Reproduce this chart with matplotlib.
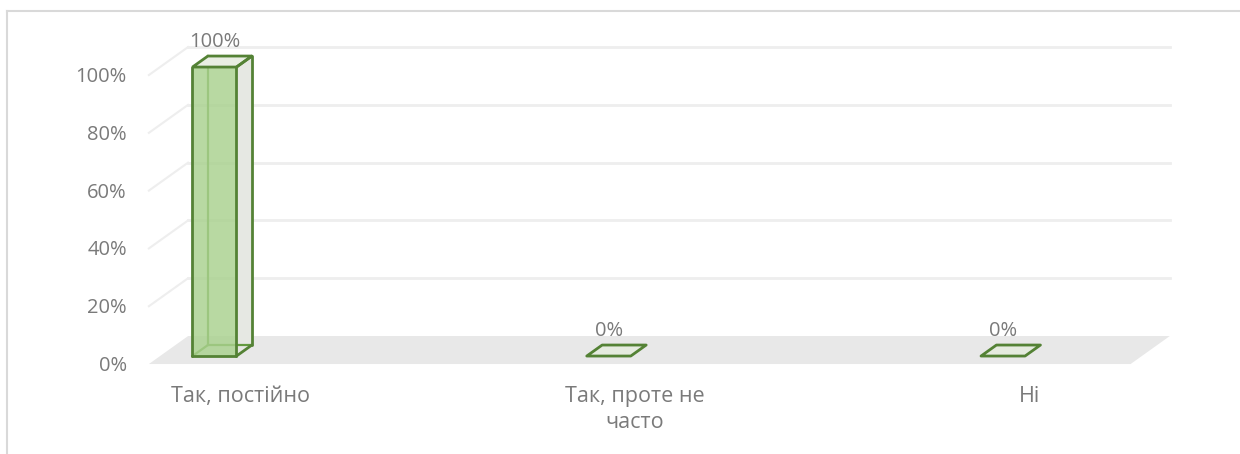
import numpy as np
import matplotlib
matplotlib.use('Agg')
import matplotlib.pyplot as plt
from matplotlib.patches import Polygon
from matplotlib.lines import Line2D
from matplotlib.transforms import IdentityTransform

categories = ['Так, постійно', 'Так, проте не\nчасто', 'Ні']
values = [100, 0, 0]
value_labels = ['100%', '0%', '0%']
ticks = [0, 20, 40, 60, 80, 100]
tick_labels = ['0%', '20%', '40%', '60%', '80%', '100%']

plt.rcParams['font.family'] = ['Open Sans', 'DejaVu Sans']
GREY_TXT = '#7a7a7a'
EDGE = '#548235'
EDGE_HIDDEN = '#639a3f'
FILL = '#a9d18e'
FS = 14.5
FS_CAT = 15.5

fig = plt.figure(figsize=(12.4, 4.54), dpi=100)
ax = fig.add_axes([0, 0, 1, 1])
ax.set_xlim(-0.544, 2.601)
ax.set_ylim(-33.9, 123.2)
ax.axis('off')

# depth direction of the oblique projection, pixels per unit depth
DEPTH = np.array([1.4, 1.0])
D_FLOOR_FRONT, D_BAR_BACK, D_WALL = -8, 11, 20
XMIN, XMAX = -0.138, 2.352
HW = 0.0558

z = [1]


def pt(x, v, d=0):
    return ax.transData.transform((x, v)) + d * DEPTH


def nz():
    z[0] += 0.01
    return z[0]


def poly(points, **kw):
    ax.add_patch(Polygon(np.array(points), closed=True,
                         transform=IdentityTransform(), zorder=nz(), **kw))


def seg(a, b, **kw):
    ax.add_line(Line2D([a[0], b[0]], [a[1], b[1]],
                       transform=IdentityTransform(), zorder=nz(), **kw))


# walls: gridlines on the back and left side
for t in ticks[1:]:
    seg(pt(XMIN, t, D_WALL), pt(XMAX, t, D_WALL), color='#eeeeee', lw=2)
    seg(pt(XMIN, t, D_FLOOR_FRONT), pt(XMIN, t, D_WALL), color='#eeeeee', lw=1.5)

# floor
poly([pt(XMIN, 0, D_FLOOR_FRONT), pt(XMAX, 0, D_FLOOR_FRONT),
      pt(XMAX, 0, D_WALL), pt(XMIN, 0, D_WALL)],
     facecolor='#e8e8e8', edgecolor='none')

# y tick labels
for t, lab in zip(ticks, tick_labels):
    p = pt(XMIN, t, D_FLOOR_FRONT)
    ax.text(p[0] - 22, p[1] - 2, lab, transform=IdentityTransform(),
            ha='right', va='center', fontsize=FS, color=GREY_TXT)

# 3d columns
for i, v in enumerate(values):
    l, r = i - HW, i + HW
    fl0, fr0, fl1, fr1 = pt(l, 0), pt(r, 0), pt(l, v), pt(r, v)
    bl0, br0, bl1, br1 = (pt(l, 0, D_BAR_BACK), pt(r, 0, D_BAR_BACK),
                          pt(l, v, D_BAR_BACK), pt(r, v, D_BAR_BACK))
    if v > 0:
        poly([fr0, br0, br1, fr1], facecolor='#e6e8e3', edgecolor='none')
        # hidden edges behind the front face
        seg(bl0, bl1, color=EDGE_HIDDEN, lw=1.6)
        seg(bl0, br0, color=EDGE_HIDDEN, lw=1.6)
        seg(fl0, bl0, color=EDGE_HIDDEN, lw=1.6)
        poly([fl0, fr0, fr1, fl1], facecolor=FILL, edgecolor='none', alpha=0.82)
        poly([fl1, fr1, br1, bl1], facecolor='#e9eee3', edgecolor=EDGE, lw=2)
        for a, b in [(fl0, fr0), (fl0, fl1), (fr0, fr1), (fr1, br1),
                     (br0, br1), (fr0, br0)]:
            seg(a, b, color=EDGE, lw=2, solid_capstyle='round')
    else:
        poly([fl1, fr1, br1, bl1], facecolor='#e5ebdf',
             edgecolor=EDGE, lw=2, joinstyle='round')

    ax.annotate(value_labels[i], xy=(i, v), xytext=(0, 25),
                textcoords='offset pixels', ha='center', va='center',
                fontsize=FS, color=GREY_TXT, zorder=10)
    ax.annotate(categories[i], xy=(i, 0), xytext=(26, -30),
                textcoords='offset pixels', ha='center', va='top',
                multialignment='center', linespacing=1.3,
                fontsize=FS_CAT, color=GREY_TXT, zorder=10)

# chart area border (top and left edges)
fig.add_artist(Line2D([7 / 1240, 1], [1 - 11 / 454, 1 - 11 / 454],
                      transform=fig.transFigure, color='#d9d9d9', lw=1.5))
fig.add_artist(Line2D([7 / 1240, 7 / 1240], [0, 1 - 11 / 454],
                      transform=fig.transFigure, color='#d9d9d9', lw=1.5))

fig.savefig('out.png', dpi=100)
